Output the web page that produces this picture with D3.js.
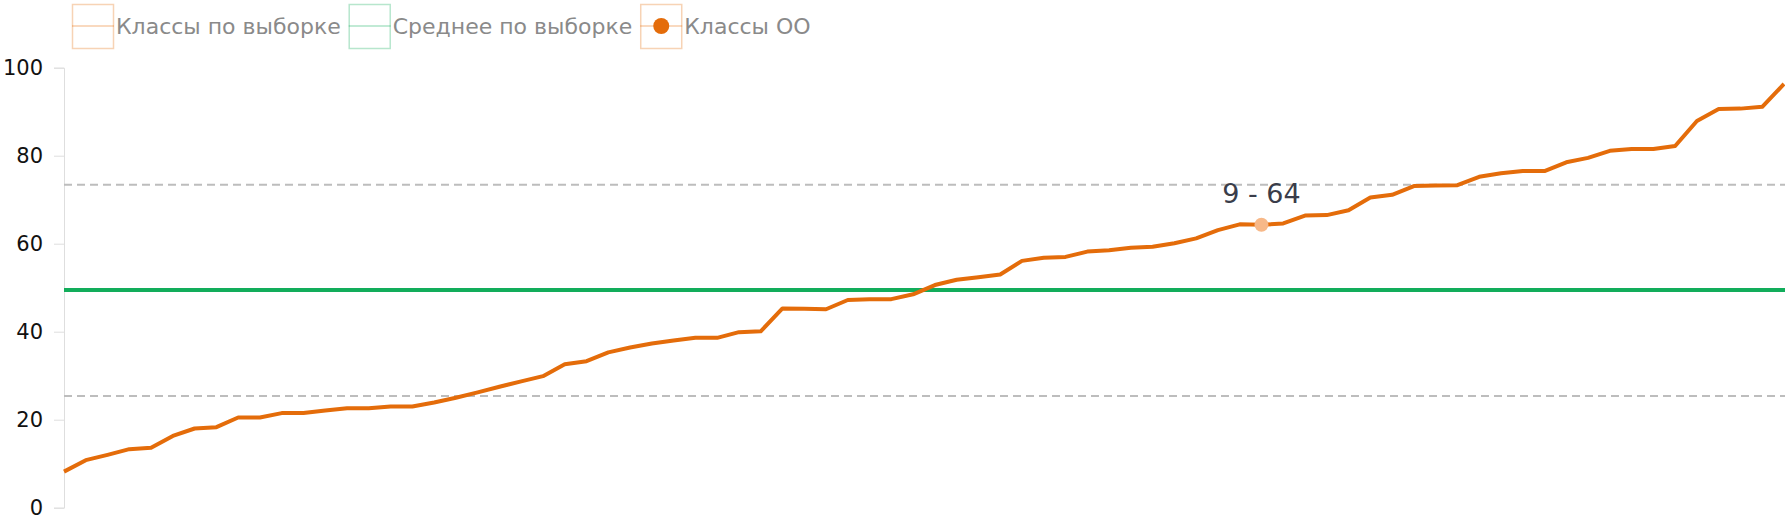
<!DOCTYPE html>
<html>
<head>
<meta charset="utf-8">
<script src="https://cdn.jsdelivr.net/npm/d3@7"></script>
<style>
  html, body { margin: 0; padding: 0; background: #fff; }
  svg { display: block; font-family: "DejaVu Sans", sans-serif; }
</style>
</head>
<body>
<svg id="chart" width="1785" height="523"></svg>
<script>
// ---- data ----
const classValues = [
  8.2, 10.8, 12.0, 13.3, 13.6, 16.3, 18.0, 18.3, 20.5, 20.5,
  21.5, 21.5, 22.1, 22.6, 22.6, 23.0, 23.0, 23.9, 25.0, 26.2,
  27.5, 28.7, 29.9, 32.6, 33.3, 35.3, 36.4, 37.3, 38.0, 38.6,
  38.6, 39.9, 40.1, 45.3, 45.2, 45.1, 47.2, 47.4, 47.4, 48.5,
  50.6, 51.8, 52.4, 53.0, 56.1, 56.8, 57.0, 58.2, 58.5, 59.1,
  59.3, 60.1, 61.2, 63.1, 64.4, 64.3, 64.6, 66.4, 66.5, 67.6,
  70.5, 71.1, 73.1, 73.2, 73.3, 75.2, 76.0, 76.5, 76.5, 78.5,
  79.5, 81.1, 81.5, 81.5, 82.2, 87.9, 90.6, 90.7, 91.1, 96.3
];
const categories = classValues.map((d, i) => i + 1);
const sampleMean = [49.5];
const sampleBounds = [25.4, 73.4];
const schoolClassIndex = [55];
const schoolClassName = ["9"];
const schoolClassValue = [64];
const yTicks = [0, 20, 40, 60, 80, 100];
const legendLabels = ["Классы по выборке", "Среднее по выборке", "Классы ОО"];

// ---- drawing ----
(function () {
const W = 1785, H = 523;
const mLeft = 64, mRight = 1784, mTop = 67.7, mBottom = 507.7;
const orange = "#e46c0a";
const green = "#12ad5b";

const svg = d3.select("#chart");

const x = d3.scalePoint().domain(categories).range([mLeft, mRight]);
const y = d3.scaleLinear().domain([0, 100]).range([mBottom, mTop]);

// y axis
const yAxis = d3.axisLeft(y).tickValues(yTicks).tickSize(10).tickPadding(11);
const gy = svg.append("g").attr("transform", `translate(${mLeft},0)`).call(yAxis);
gy.select(".domain").attr("stroke", "#dedede").attr("stroke-width", 1);
gy.selectAll(".tick line").attr("stroke", "#dedede");
gy.selectAll(".tick text")
  .attr("fill", "#111")
  .style("font-family", "'DejaVu Sans', sans-serif")
  .style("font-size", "21px");

// dashed bounds
svg.append("g").selectAll("line").data(sampleBounds).join("line")
  .attr("x1", mLeft).attr("x2", W)
  .attr("y1", d => y(d)).attr("y2", d => y(d))
  .attr("stroke", "#bdbdbd").attr("stroke-width", 2)
  .attr("stroke-dasharray", "8,5");

// mean line
svg.append("g").selectAll("line").data(sampleMean).join("line")
  .attr("x1", mLeft).attr("x2", W)
  .attr("y1", d => y(d)).attr("y2", d => y(d))
  .attr("stroke", green).attr("stroke-width", 4);

// class line
const line = d3.line().x((d, i) => x(categories[i])).y(d => y(d));
svg.append("path").datum(classValues)
  .attr("d", line)
  .attr("fill", "none")
  .attr("stroke", orange)
  .attr("stroke-width", 4)
  .attr("stroke-linejoin", "round");

// highlighted school class
const hi = schoolClassIndex.map((idx, k) => ({
  cx: x(categories[idx]), v: classValues[idx], name: schoolClassName[k], val: schoolClassValue[k]
}));
svg.append("g").selectAll("circle").data(hi).join("circle")
  .attr("cx", d => d.cx).attr("cy", d => y(d.v))
  .attr("r", 7)
  .attr("fill", "#f7b888");
svg.append("g").selectAll("text").data(hi).join("text")
  .attr("x", d => d.cx).attr("y", d => y(d.v) - 22)
  .attr("text-anchor", "middle")
  .attr("fill", "#3a3d4a")
  .style("font-size", "27px")
  .text(d => `${d.name} - ${d.val}`);

// legend
const legend = svg.append("g");
const legendColors = [orange, green, orange];
let lx = 72;
legendLabels.forEach((lab, i) => {
  const g = legend.append("g").attr("transform", `translate(${lx},4.5)`);
  g.append("rect").attr("x", 0.5).attr("y", 0).attr("width", 41).attr("height", 44)
    .attr("fill", "none").attr("stroke", legendColors[i]).attr("stroke-opacity", 0.3).attr("stroke-width", 1.5);
  g.append("line").attr("x1", 0).attr("x2", 42).attr("y1", 21.5).attr("y2", 21.5)
    .attr("stroke", legendColors[i]).attr("stroke-opacity", 0.35).attr("stroke-width", 1.5);
  if (i === 2) {
    g.append("circle").attr("cx", 21).attr("cy", 21.5).attr("r", 8).attr("fill", orange);
  }
  const t = g.append("text").attr("x", 44).attr("y", 21.5).attr("dy", "0.36em")
    .attr("fill", "#8a8a8a").style("font-size", "22px").text(lab);
  lx += 44 + t.node().getComputedTextLength() + 8;
});
})();
</script>
</body>
</html>
